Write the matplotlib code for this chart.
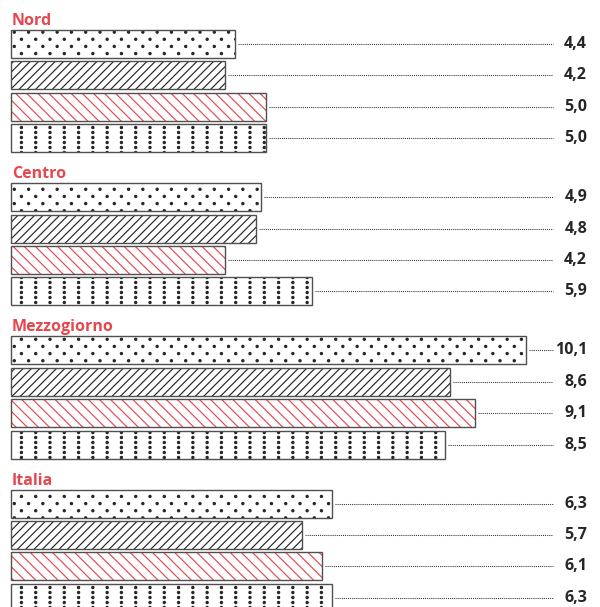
import numpy as np
import matplotlib
matplotlib.use("Agg")
import matplotlib.pyplot as plt
from matplotlib import hatch as mhatch
from matplotlib.path import Path

# data
regions = ["Nord", "Centro", "Mezzogiorno", "Italia"]
serie_1 = [4.4, 4.9, 10.1, 6.3]   # dots
serie_2 = [4.2, 4.8, 8.6, 5.7]    # black stripes
serie_3 = [5.0, 4.2, 9.1, 6.1]    # red stripes
serie_4 = [5.0, 5.9, 8.5, 6.3]    # dotted columns

RED = "#e6474e"
EDGE = "#505050"
INK = "#262626"


class DotPattern(mhatch.HatchPatternBase):
    """Filled dots laid out in a tile, triggered by one hatch char."""
    char = "o"
    radius = 0.011

    def __init__(self, hatch, density):
        self.circle = Path.unit_circle()
        self.centers = self.layout() if self.char in hatch else np.empty((0, 2))
        self.num_vertices = len(self.centers) * len(self.circle.vertices)

    def set_vertices_and_codes(self, vertices, codes):
        n = len(self.circle.vertices)
        for k, c in enumerate(self.centers):
            vertices[k * n:(k + 1) * n] = self.circle.vertices * self.radius + c
            codes[k * n:(k + 1) * n] = self.circle.codes


class StaggeredDots(DotPattern):
    char = "o"

    def layout(self):
        rows, cols = 14, 7
        pts = []
        for j in range(rows):
            y = (j + 0.5) / rows
            if j % 2 == 0:
                pts += [((i + 0.5) / cols, y) for i in range(cols)]
            else:
                pts += [(i / cols, y) for i in range(cols + 1)]
        return np.array(pts)


class DotColumns(DotPattern):
    char = "O"

    def layout(self):
        rows, cols = 20, 7
        return np.array([((i + 0.5) / cols, (j + 0.5) / rows)
                         for i in range(cols) for j in range(rows)])


types = mhatch._hatch_types
types[types.index(mhatch.SmallCircles)] = StaggeredDots
types[types.index(mhatch.LargeCircles)] = DotColumns

plt.rcParams["hatch.linewidth"] = 0.85
plt.rcParams["font.family"] = ["Open Sans", "DejaVu Sans"]

# layout in pixels (y grows downward)
TOP, GROUP, PITCH, BAR_H = 44, 153.2, 31.4, 28
SCALE, X0 = 51.0, 11
LEADER_END = 553
LABEL_X = 587

fig = plt.figure(figsize=(6, 6.07), dpi=100)
ax = fig.add_axes([0, 0, 1, 1])
ax.set_xlim(-X0 / SCALE, (600 - X0) / SCALE)
ax.set_ylim(607, 0)
ax.axis("off")

series = [
    (serie_1, "o", INK),
    (serie_2, "////", INK),
    (serie_3, "\\\\\\", RED),
    (serie_4, "O", INK),
]

for g, name in enumerate(regions):
    base = TOP + g * GROUP
    ax.text(1 / SCALE, base - BAR_H / 2 - 5, name,
            color=RED, fontsize=11.5, fontweight="bold", va="baseline")
    for i, (vals, hatch, hcol) in enumerate(series):
        y = base + i * PITCH
        v = vals[g]
        ax.barh(y, v, height=BAR_H, color="white", edgecolor=hcol,
                hatch=hatch, linewidth=0)
        ax.barh(y, v, height=BAR_H, fill=False, edgecolor=EDGE, linewidth=1.0)
        ax.plot([v + 3 / SCALE, (LEADER_END - X0) / SCALE], [y, y],
                color="#333333", lw=0.75, ls=(0, (1, 1)))
        ax.text((LABEL_X - X0) / SCALE, y, f"{v:.1f}".replace(".", ","),
                ha="right", va="center", fontsize=11.5, fontweight="bold",
                color=INK)

fig.savefig("out.png", dpi=100)
